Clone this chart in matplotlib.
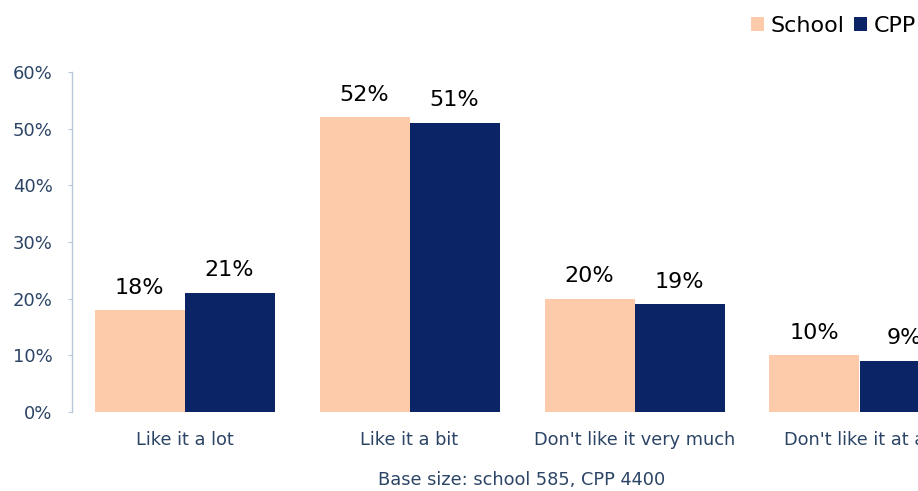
import matplotlib
matplotlib.use("Agg")
import matplotlib.pyplot as plt
import numpy as np

categories = ["Like it a lot", "Like it a bit", "Don't like it very much", "Don't like it at all"]
school = [18, 52, 20, 10]
cpp = [21, 51, 19, 9]
series_names = ["School", "CPP"]
yticks = [0, 10, 20, 30, 40, 50, 60]
footnote = "Base size: school 585, CPP 4400"

school_color = "#FDCBA9"
cpp_color = "#0B2466"
axis_text = "#2C4566"

plt.rcParams["font.family"] = ["DejaVu Sans"]

fig = plt.figure(figsize=(9.18, 4.91), dpi=100)
# axes runs past the right edge of the canvas, cropping the last group
ax = fig.add_axes([72 / 918, 1 - 412 / 491, 900 / 918, 340 / 491])

x = np.arange(len(categories))
w = 0.4
b1 = ax.bar(x - w / 2, school, width=w, color=school_color, label=series_names[0])
b2 = ax.bar(x + w / 2, cpp, width=w, color=cpp_color, label=series_names[1])

for bars, vals in ((b1, school), (b2, cpp)):
    for rect, v in zip(bars, vals):
        ax.annotate(f"{v}%", (rect.get_x() + rect.get_width() / 2, v),
                    xytext=(0, 9), textcoords="offset points",
                    ha="center", va="bottom", fontsize=16, color="black")

ax.set_xlim(-0.5, len(categories) - 0.5)
ax.set_ylim(0, 60)
ax.set_yticks(yticks)
ax.set_yticklabels([f"{t}%" for t in yticks], fontsize=13, color=axis_text)
ax.set_xticks(x)
ax.set_xticklabels(categories, fontsize=12.8, color=axis_text)
ax.tick_params(axis="x", length=0, pad=14)
ax.tick_params(axis="y", length=3, width=0.8, color="#B8C8D8", pad=11)

for side in ("top", "right", "bottom"):
    ax.spines[side].set_visible(False)
ax.spines["left"].set_color("#B8C8D8")
ax.spines["left"].set_linewidth(1.0)

fig.text(522 / 918, 1 - 480 / 491, footnote, ha="center", va="center",
         fontsize=12.8, color=axis_text)

fig.legend(handles=[b1, b2], labels=series_names, loc="center left",
           bbox_to_anchor=(751 / 918, 1 - 26 / 491), ncol=2, frameon=False,
           fontsize=16, handlelength=0.6, handleheight=0.6,
           handletextpad=0.3, columnspacing=0.4, borderaxespad=0, borderpad=0)

fig.savefig("out.png", dpi=100)
